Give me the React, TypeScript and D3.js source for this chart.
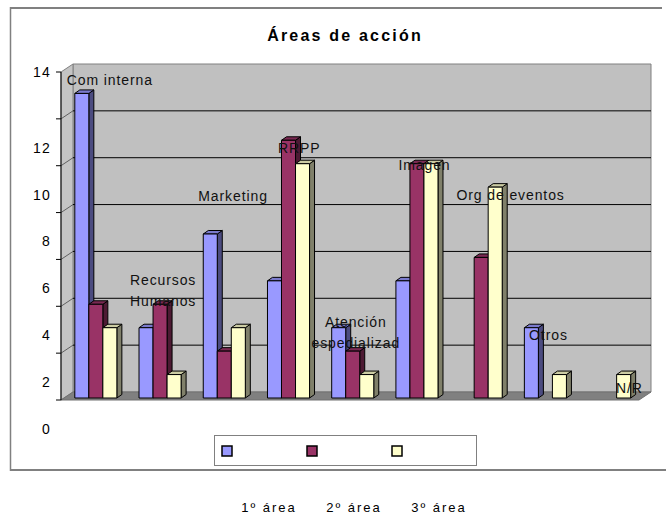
import * as d3 from "d3"

const categories = [
  "Com interna",
  "Recursos Humanos",
  "Marketing",
  "RRPP",
  "Atención espedializad",
  "Imagen",
  "Org de eventos",
  "Otros",
  "N/R",
]
const series = ["1º área", "2º área", "3º área"]
const area1 = [13, 3, 7, 5, 3, 5, 0, 3, 0]
const area2 = [4, 4, 2, 11, 2, 10, 6, 0, 0]
const area3 = [3, 1, 3, 10, 1, 10, 9, 1, 1]
const yTicks = [0, 2, 4, 6, 8, 10, 12, 14]

// where excel dropped the category names: [fraction of band, level in value units]
const labelLines = [
  ["Com interna"],
  ["Recursos", "Humanos"],
  ["Marketing"],
  ["RRPP"],
  ["Atención", "espedializad"],
  ["Imagen"],
  ["Org de eventos"],
  ["Otros"],
  ["N/R"],
]
const labelAt: [number, number][] = [
  [0.76, 13.66],
  [0.59, 5.12],
  [0.68, 8.71],
  [0.71, 10.76],
  [0.59, 3.33],
  [0.66, 10.03],
  [1.0, 8.75],
  [0.59, 2.77],
  [0.85, 0.51],
]

const faces = [
  { front: "#9999ff", side: "#4c4c80", top: "#7a7acc" },
  { front: "#993366", side: "#4d1a33", top: "#7a2952" },
  { front: "#ffffcc", side: "#80806a", top: "#cccca3" },
]

const W = 666
const H = 516
const left = 61
const right = 639
const top = 72
const bottom = 400
const wdx = 12
const wdy = -8
const bdx = 5
const bdy = -3.5
const font = "'Liberation Sans', Arial, sans-serif"

export default function App() {
  const values = [area1, area2, area3]
  const y = d3.scaleLinear().domain([0, 14]).range([bottom, top])
  const x0 = d3.scaleBand().domain(categories).range([left, right])
  const bw = x0.bandwidth()
  const x1 = d3.scaleBand().domain(series).range([bw * 0.215, bw * 0.87])
  const barW = x1.bandwidth()
  const lift = 2

  const bars = categories.flatMap((c, i) =>
    series.map((s, j) => {
      const v = values[j][i]
      const bx = (x0(c) ?? 0) + (x1(s) ?? 0)
      const by = y(v) - lift
      const base = y(0) - lift
      return { key: `${c}-${s}`, v, bx, by, base, f: faces[j] }
    }),
  )

  return (
    <svg
      width={W}
      height={H}
      style={{ position: "absolute", left: 0, top: 0, background: "#fff" }}
      fontFamily={font}
    >
      {/* outer frame */}
      <line x1={10} x2={662} y1={8} y2={8} stroke="#808080" strokeWidth={2} />
      <line x1={10.5} x2={10.5} y1={7} y2={471} stroke="#808080" strokeWidth={1.5} />
      <line x1={10} x2={666} y1={470} y2={470} stroke="#808080" strokeWidth={2} />

      <text
        x={345}
        y={41}
        textAnchor="middle"
        fontSize={16}
        fontWeight={700}
        letterSpacing={2.2}
      >
        Áreas de acción
      </text>

      {/* walls and floor */}
      <polygon
        points={`${left + wdx},${top + wdy} ${right + wdx},${top + wdy} ${right + wdx},${bottom + wdy} ${left + wdx},${bottom + wdy}`}
        fill="#c0c0c0"
        stroke="#808080"
        strokeWidth={1}
      />
      <polygon
        points={`${left},${top} ${left + wdx},${top + wdy} ${left + wdx},${bottom + wdy} ${left},${bottom}`}
        fill="#c4c4c4"
        stroke="#808080"
        strokeWidth={1}
      />
      <polygon
        points={`${left},${bottom} ${right},${bottom} ${right + wdx},${bottom + wdy} ${left + wdx},${bottom + wdy}`}
        fill="#808080"
        stroke="#707070"
        strokeWidth={1}
      />

      {yTicks
        .filter((t) => t > 0 && t < 14)
        .map((t) => (
          <g key={`g${t}`}>
            <line
              x1={left + wdx}
              x2={right + wdx}
              y1={y(t) + wdy}
              y2={y(t) + wdy}
              stroke="#000"
              strokeWidth={1}
            />
            <line
              x1={left}
              x2={left + wdx}
              y1={y(t)}
              y2={y(t) + wdy}
              stroke="#606060"
              strokeWidth={1}
            />
          </g>
        ))}

      {/* axis */}
      <line x1={left} x2={left} y1={top} y2={bottom} stroke="#000" strokeWidth={1} />
      {yTicks.map((t) => (
        <g key={`t${t}`}>
          <line x1={left - 5} x2={left} y1={y(t)} y2={y(t)} stroke="#000" strokeWidth={1} />
          <text
            x={51}
            y={y(t) + (t === 14 ? 0 : 29)}
            dy="0.35em"
            textAnchor="end"
            fontSize={14}
            letterSpacing={1.2}
          >
            {t}
          </text>
        </g>
      ))}

      {/* bars */}
      {bars
        .filter((b) => b.v > 0)
        .map((b) => (
          <g key={b.key} stroke="#000" strokeWidth={1} strokeLinejoin="round">
            <polygon
              points={`${b.bx + barW},${b.by} ${b.bx + barW + bdx},${b.by + bdy} ${b.bx + barW + bdx},${b.base + bdy} ${b.bx + barW},${b.base}`}
              fill={b.f.side}
            />
            <polygon
              points={`${b.bx},${b.by} ${b.bx + bdx},${b.by + bdy} ${b.bx + barW + bdx},${b.by + bdy} ${b.bx + barW},${b.by}`}
              fill={b.f.top}
            />
            <rect x={b.bx} y={b.by} width={barW} height={b.base - b.by} fill={b.f.front} />
          </g>
        ))}

      {/* category name labels */}
      {categories.map((c, i) => (
        <text
          key={`l${c}`}
          x={(x0(c) ?? 0) + bw * labelAt[i][0]}
          y={y(labelAt[i][1])}
          textAnchor="middle"
          fontSize={14}
          letterSpacing={0.9}
          fill="#111"
        >
          {labelLines[i].map((line, k) => (
            <tspan key={line} x={(x0(c) ?? 0) + bw * labelAt[i][0]} dy={k === 0 ? "0.35em" : 21}>
              {line}
            </tspan>
          ))}
        </text>
      ))}

      {/* legend */}
      <rect x={214.5} y={435.5} width={262} height={30} fill="#fff" stroke="#808080" strokeWidth={1} />
      {series.map((s, j) => (
        <g key={`lg${s}`}>
          <rect
            x={222 + j * 85}
            y={446}
            width={10}
            height={10}
            fill={faces[j].front}
            stroke="#000"
            strokeWidth={1.5}
          />
          <text
            x={269 + j * 85}
            y={507}
            dy="0.35em"
            textAnchor="middle"
            fontSize={13}
            letterSpacing={2}
          >
            {s}
          </text>
        </g>
      ))}
    </svg>
  )
}
